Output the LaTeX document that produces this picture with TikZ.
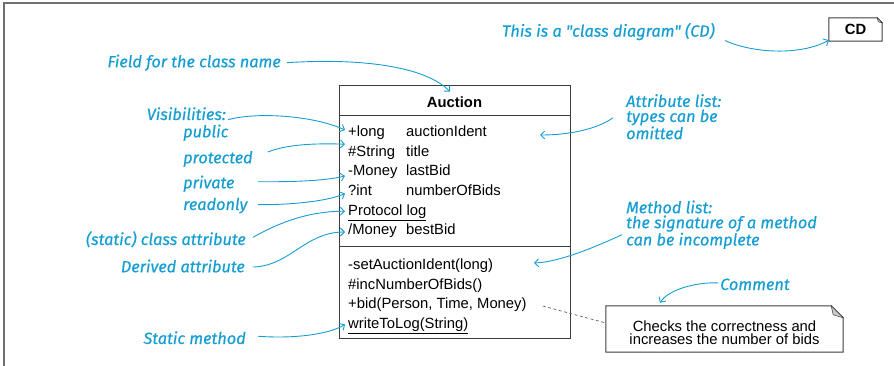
\documentclass[tikz,border=0pt]{standalone}
\usepackage{fontspec}
\setmainfont{Liberation Sans}
\newfontfamily\notefont{Fira Sans}[FakeBold=0.5]
\usetikzlibrary{arrows.meta,calc}

\definecolor{noteblue}{RGB}{22,158,210}
\definecolor{framegray}{RGB}{112,112,112}
\definecolor{boxline}{RGB}{60,60,60}
\definecolor{foldgray}{RGB}{200,200,200}

\begin{document}
\begin{tikzpicture}[x=1pt,y=-1pt,
  umlfont/.style={font=\fontsize{14.8}{16}\selectfont},
  rowtext/.style={umlfont, inner xsep=3pt, inner ysep=0pt, anchor=base west,
    text height=11pt, text depth=3pt},
  annot/.style={font=\notefont\itshape\fontsize{16.3}{15}\selectfont,
    text=noteblue, inner sep=0pt},
  callout/.style={draw=noteblue, line width=0.9pt,
    -{Straight Barb[length=4pt,width=8pt]}},
  umlbox/.style={draw=boxline, line width=1pt},
  comment link/.style={draw=boxline!80, line width=0.7pt, dash pattern=on 3pt off 2.5pt},
]
\useasboundingbox (0,0) rectangle (894,366);

% open frame: left and top edges only
\draw[framegray, line width=2pt] (3.5,366) -- (3.5,3.5) -- (894,3.5);

% ---- class Auction ----
\node[umlbox, minimum width=231pt, minimum height=252pt, inner sep=0pt] (cls) at (454.5,212) {};
\draw[umlbox] (cls.west |- 0,116) -- (cls.east |- 0,116);
\draw[umlbox] (cls.west |- 0,246) -- (cls.east |- 0,246);
\node[umlfont, font=\bfseries\fontsize{14.8}{16}\selectfont, inner sep=0pt, anchor=base] (title) at (454.5,107.3) {Auction};

% attributes
\node[rowtext] (r1) at (345,136.5) {+long};
\node[rowtext] (r2) at (345,156.2) {\#String};
\node[rowtext] (r3) at (345,175.9) {-Money};
\node[rowtext] (r4) at (345,195.6) {?int};
\node[rowtext] (r5) at (345,215.3) {\underline{Protocol log}};
\node[rowtext] (r6) at (345,235.0) {/Money};
\node[rowtext] (n1) at (403,136.5) {auctionIdent};
\node[rowtext] (n2) at (403,156.2) {title};
\node[rowtext] (n3) at (403,175.9) {lastBid};
\node[rowtext] (n4) at (403,195.6) {numberOfBids};
\node[rowtext] (n6) at (403,235.0) {bestBid};

% methods
\node[rowtext] (m1) at (345,269.3) {-setAuctionIdent(long)};
\node[rowtext] (m2) at (345,289.0) {\#incNumberOfBids()};
\node[rowtext] (m3) at (345,308.7) {+bid(Person, Time, Money)};
\node[rowtext] (m4) at (345,328.4) {\underline{writeToLog(String)}};

% ---- diagram tag ----
\node[font=\bfseries\fontsize{14.8}{16}\selectfont, minimum width=53pt, minimum height=23pt, inner sep=0pt] (cd) at (855.5,29.5) {CD};
\draw[umlbox] (cd.south west) -- (cd.north west) -- ($(cd.north east)+(-5,0)$)
  -- ($(cd.north east)+(0,5)$) -- (cd.south east) -- cycle;
\draw[boxline, fill=foldgray, line width=0.5pt] ($(cd.north east)+(-5,0)$) -- ($(cd.north east)+(0,5)$) -- ($(cd.north east)+(-4,4)$) -- cycle;

% ---- comment note ----
\node[minimum width=237pt, minimum height=46pt, inner sep=0pt] (note) at (724.5,329) {};
\draw[umlbox] (note.south west) -- (note.north west) -- ($(note.north east)+(-12,0)$)
  -- ($(note.north east)+(0,12)$) -- (note.south east) -- cycle;
\draw[boxline, fill=foldgray, line width=0.5pt] ($(note.north east)+(-12,0)$) -- ($(note.north east)+(0,12)$) -- ($(note.north east)+(-10,9)$) -- cycle;
\node[umlfont, font=\fontsize{14.8}{13}\selectfont, align=center, inner sep=0pt] (notetxt) at (724.5,333)
  {Checks the correctness and\\increases the number of bids};

\draw[comment link] ([xshift=13pt,yshift=-1.3pt]m3.east) -- ([yshift=6pt]note.west);

% ---- annotations ----
\node[annot, anchor=base east] (cdlbl) at (715,36.7) {This is a "class diagram" (CD)};
\node[annot, anchor=base east] (fieldlbl) at (281,67.3) {Field for the class name};
\node[annot, anchor=base east] (vislbl) at (226,120) {Visibilities:};
\node[annot, anchor=base west] (publbl) at (183,137.3) {public};
\node[annot, anchor=base west] (protlbl) at (183,163.3) {protected};
\node[annot, anchor=base west] (privlbl) at (183,188.3) {private};
\node[annot, anchor=base west] (rolbl) at (183,210) {readonly};
\node[annot, anchor=base east] (statlbl) at (246,245) {(static) class attribute};
\node[annot, anchor=base east] (derlbl) at (245,272.3) {Derived attribute};
\node[annot, anchor=base east] (smlbl) at (246,344) {Static method};
\node[annot, anchor=north west, align=left] (attrlbl) at (626,94)
  {Attribute list:\\types can be\\omitted};
\node[annot, anchor=north west, align=left] (methlbl) at (626,200.3)
  {Method list:\\the signature of a method\\can be incomplete};
\node[annot, anchor=base west] (comlbl) at (720,290) {Comment};

\coordinate (attrtip) at (540,135);
\coordinate (methtip) at (534,263);

% ---- callout arrows ----
\draw[callout] ([xshift=6pt]fieldlbl.east) .. controls (360,58) and (425,66) .. ([xshift=-4.5pt,yshift=4.7pt]title.north);
\draw[callout] ([xshift=10pt,yshift=-9pt]cdlbl.east) .. controls (752,53) and (800,56) .. ([yshift=1pt]cd.south west);
\draw[callout] ([xshift=2pt,yshift=-6pt]vislbl.east) .. controls (255,112) and (312,115) .. ([yshift=2.5pt]r1.west);
\draw[callout] ([xshift=85pt,yshift=7pt]protlbl.west) .. controls (285,145) and (312,143) .. ([yshift=8pt]r2.west);
\draw[callout] ([xshift=75pt,yshift=2pt]privlbl.west) .. controls (292,182) and (325,181) .. ([yshift=-4pt]r3.west);
\draw[callout] ([xshift=75pt,yshift=1pt]rolbl.west) .. controls (292,205) and (328,201) .. ([yshift=-2pt]r4.west);
\draw[callout] ([xshift=7pt,yshift=2pt]statlbl.east) .. controls (280,222) and (310,211) .. (r5.west);
\draw[callout] ([xshift=8pt,yshift=-1pt]derlbl.east) .. controls (290,266) and (305,232) .. ([yshift=-1pt]r6.west);
\draw[callout] ([xshift=12pt,yshift=1.5pt]smlbl.east) .. controls (295,339) and (330,334) .. (m4.west);
\draw[callout] ([xshift=-13pt,yshift=-1pt]attrlbl.west) .. controls (600,127) and (575,135) .. (attrtip);
\draw[callout] ([xshift=-4pt,yshift=-10pt]methlbl.west) .. controls (595,247) and (560,262) .. (methtip);
\draw[callout] ([xshift=-2pt,yshift=1.5pt]comlbl.west) .. controls (695,282) and (668,290) .. ([xshift=-64.5pt,yshift=3pt]note.north);
\end{tikzpicture}
\end{document}
